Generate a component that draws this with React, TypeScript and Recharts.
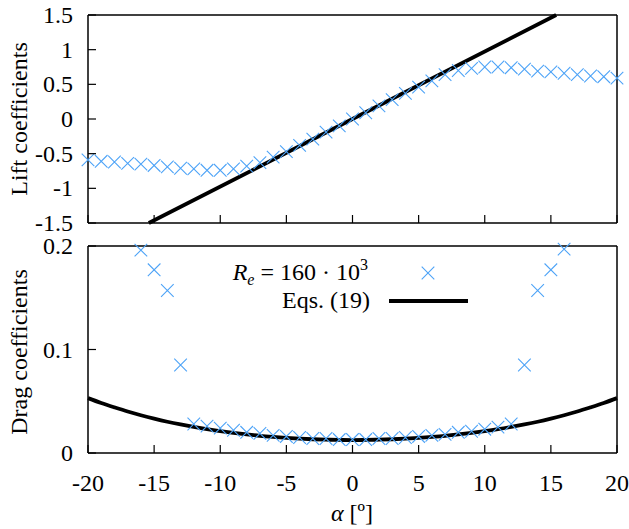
import { ComposedChart, Scatter, Line, XAxis, YAxis } from "recharts";

// angle of attack, degrees
const alphaDeg = [
  -20, -19, -18, -17, -16, -15, -14, -13, -12, -11, -10, -9, -8, -7, -6, -5, -4, -3, -2, -1, 0,
  1, 2, 3, 4, 5, 6, 7, 8, 9, 10, 11, 12, 13, 14, 15, 16, 17, 18, 19, 20,
];

// measured lift, Re = 160e3
const liftMeasured = [
  -0.59, -0.61, -0.62, -0.64, -0.65, -0.67, -0.69, -0.71, -0.72, -0.74, -0.74, -0.72, -0.68, -0.63,
  -0.55, -0.47, -0.38, -0.29, -0.19, -0.1, 0.0,
  0.09, 0.19, 0.28, 0.37, 0.46, 0.55, 0.64, 0.7, 0.73, 0.75, 0.75, 0.74, 0.72, 0.69, 0.68, 0.66,
  0.64, 0.62, 0.61, 0.59,
];

// lift model, Eqs. (19)
const liftModelAlpha = [-15.4, 0, 15.4];
const liftModel = [-1.5, 0, 1.5];

// measured drag, Re = 160e3
const dragAlpha = [
  -16, -15, -14, -13, -12, -11, -10, -9, -8, -7, -6, -5, -4, -3, -2, -1, 0,
  1, 2, 3, 4, 5, 6, 7, 8, 9, 10, 11, 12, 13, 14, 15, 16,
];
const dragMeasured = [
  0.196, 0.177, 0.157, 0.085, 0.028, 0.026, 0.024, 0.022, 0.02, 0.019, 0.017, 0.016, 0.015, 0.014,
  0.014, 0.013, 0.013,
  0.013, 0.014, 0.014, 0.015, 0.016, 0.017, 0.018, 0.02, 0.021, 0.023, 0.025, 0.028, 0.085, 0.157,
  0.177, 0.197,
];

// drag model, Eqs. (19)
const dragModel = [
  0.053, 0.0483, 0.0441, 0.0401, 0.0365, 0.0332, 0.0302, 0.0276, 0.0252, 0.023, 0.0211, 0.0194,
  0.0179, 0.0166, 0.0156, 0.0147, 0.0139, 0.0133, 0.0129, 0.0126, 0.0125,
  0.0126, 0.0129, 0.0133, 0.0139, 0.0147, 0.0156, 0.0166, 0.0179, 0.0194, 0.0211, 0.023, 0.0252,
  0.0276, 0.0302, 0.0332, 0.0365, 0.0401, 0.0441, 0.0483, 0.053,
];

const alphaTicks = [-20, -15, -10, -5, 0, 5, 10, 15, 20];
const liftTicks = [-1.5, -1, -0.5, 0, 0.5, 1, 1.5];
const dragTicks = [0, 0.1, 0.2];

const liftRows = alphaDeg.map((a, i) => ({ a, c: liftMeasured[i] }));
const liftLineRows = liftModelAlpha.map((a, i) => ({ a, c: liftModel[i] }));
const dragRows = dragAlpha.map((a, i) => ({ a, c: dragMeasured[i] }));
const dragLineRows = alphaDeg.map((a, i) => ({ a, c: dragModel[i] }));

const FONT = "'Liberation Serif', 'Times New Roman', serif";
const FS = 24;
const BLUE = "#4da3f7";
const TICK = 8;
const MARK = 6.3;
const frame = { stroke: "#000", strokeWidth: 1.5 };

const Cross = (props: any) => {
  const { cx, cy } = props;
  const s = MARK;
  return (
    <path
      d={`M${cx - s},${cy - s}L${cx + s},${cy + s}M${cx - s},${cy + s}L${cx + s},${cy - s}`}
      stroke={BLUE}
      strokeWidth={1.1}
      fill="none"
    />
  );
};

const bottomTick = (labels: boolean) => (p: any) => (
  <g>
    <line x1={p.x} y1={p.y} x2={p.x} y2={p.y - TICK} stroke="#000" strokeWidth={1.2} />
    {labels && (
      <text x={p.x} y={p.y + 38} textAnchor="middle" fontFamily={FONT} fontSize={FS} fill="#000">
        {String(p.payload.value)}
      </text>
    )}
  </g>
);

const topTick = (p: any) => (
  <line x1={p.x} y1={p.y} x2={p.x} y2={p.y + TICK} stroke="#000" strokeWidth={1.2} />
);

const leftTick = (p: any) => (
  <g>
    <line x1={p.x} y1={p.y} x2={p.x + TICK} y2={p.y} stroke="#000" strokeWidth={1.2} />
    <text x={p.x - 15} y={p.y + 8} textAnchor="end" fontFamily={FONT} fontSize={FS} fill="#000">
      {String(p.payload.value)}
    </text>
  </g>
);

const rightTick = (p: any) => (
  <line x1={p.x} y1={p.y} x2={p.x - TICK} y2={p.y} stroke="#000" strokeWidth={1.2} />
);

// four-sided frame with inward ticks, gnuplot style
function frameAxes(yDomain: number[], yTicks: number[], xLabels: boolean) {
  return [
    <XAxis
      key="xb"
      xAxisId="b"
      type="number"
      dataKey="a"
      domain={[-20, 20]}
      ticks={alphaTicks}
      height={xLabels ? 76 : 1}
      tickSize={0}
      tickMargin={0}
      tickLine={false}
      axisLine={frame}
      tick={bottomTick(xLabels)}
    />,
    <XAxis
      key="xt"
      xAxisId="t"
      orientation="top"
      type="number"
      dataKey="a"
      domain={[-20, 20]}
      ticks={alphaTicks}
      height={1}
      tickSize={0}
      tickMargin={0}
      tickLine={false}
      axisLine={frame}
      tick={topTick}
    />,
    <YAxis
      key="yl"
      yAxisId="l"
      type="number"
      dataKey="c"
      domain={yDomain}
      ticks={yTicks}
      width={88}
      tickSize={0}
      tickMargin={0}
      tickLine={false}
      axisLine={frame}
      tick={leftTick}
    />,
    <YAxis
      key="yr"
      yAxisId="r"
      orientation="right"
      type="number"
      dataKey="c"
      domain={yDomain}
      ticks={yTicks}
      width={1}
      tickSize={0}
      tickMargin={0}
      tickLine={false}
      axisLine={frame}
      tick={rightTick}
    />,
  ];
}

export default function App() {
  return (
    <div style={{ position: "absolute", left: 0, top: 0, width: 629, height: 529, background: "#fff" }}>
      <div style={{ position: "absolute", left: 0, top: 0 }}>
        <ComposedChart width={629} height={240} margin={{ top: 14, right: 11, bottom: 16, left: 0 }}>
          {frameAxes([-1.5, 1.5], liftTicks, false)}
          <Scatter
            data={liftRows}
            dataKey="c"
            xAxisId="b"
            yAxisId="l"
            shape={Cross}
            isAnimationActive={false}
          />
          <Line
            data={liftLineRows}
            dataKey="c"
            xAxisId="b"
            yAxisId="l"
            type="linear"
            stroke="#000"
            strokeWidth={3.8}
            dot={false}
            activeDot={false}
            isAnimationActive={false}
          />
        </ComposedChart>
      </div>
      <div style={{ position: "absolute", left: 0, top: 230 }}>
        <ComposedChart width={629} height={299} margin={{ top: 15, right: 11, bottom: 0, left: 0 }}>
          {frameAxes([0, 0.2], dragTicks, true)}
          <Scatter
            data={dragRows}
            dataKey="c"
            xAxisId="b"
            yAxisId="l"
            shape={Cross}
            isAnimationActive={false}
          />
          <Line
            data={dragLineRows}
            dataKey="c"
            xAxisId="b"
            yAxisId="l"
            type="natural"
            stroke="#000"
            strokeWidth={3.8}
            dot={false}
            activeDot={false}
            isAnimationActive={false}
          />
        </ComposedChart>
      </div>
      <svg
        width={629}
        height={529}
        style={{ position: "absolute", left: 0, top: 0, pointerEvents: "none" }}
        fontFamily={FONT}
        fontSize={FS}
      >
        <text transform="translate(27,119) rotate(-90)" textAnchor="middle">
          Lift coefficients
        </text>
        <text transform="translate(27,352) rotate(-90)" textAnchor="middle">
          Drag coefficients
        </text>
        <text x={352} y={521} textAnchor="middle">
          <tspan fontStyle="italic">α</tspan> [º]
        </text>
        <text x={368} y={280} textAnchor="end">
          <tspan fontStyle="italic">R</tspan>
          <tspan fontStyle="italic" fontSize={16} dy={5}>e</tspan>
          <tspan dy={-5}> = 160 · 10</tspan>
          <tspan fontSize={16} dy={-10}>3</tspan>
        </text>
        <path
          d={`M${428 - MARK},${273 - MARK}L${428 + MARK},${273 + MARK}M${428 - MARK},${273 + MARK}L${428 + MARK},${273 - MARK}`}
          stroke={BLUE}
          strokeWidth={1.1}
          fill="none"
        />
        <text x={370} y={308} textAnchor="end">
          Eqs. (19)
        </text>
        <line x1={389} y1={301} x2={468} y2={301} stroke="#000" strokeWidth={3.8} />
      </svg>
    </div>
  );
}
